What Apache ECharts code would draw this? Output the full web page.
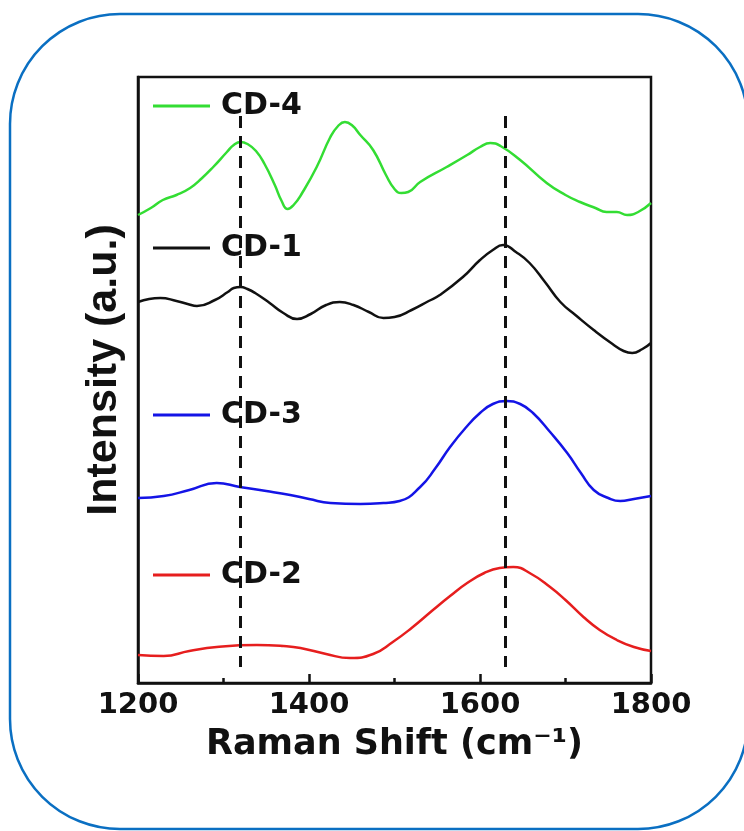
<!DOCTYPE html>
<html>
<head>
<meta charset="utf-8">
<title>Raman spectra CD-1 to CD-4</title>
<script src="https://cdn.jsdelivr.net/npm/echarts@6/dist/echarts.min.js"></script>
<style>
  html, body { margin: 0; padding: 0; background: #ffffff; }
  #chart { width: 744px; height: 831px; }
</style>
</head>
<body>
<div id="chart"></div>
<script>
// Raman shift (cm-1) sample points and stacked intensities (a.u., offset per trace)
const cd4Shift = [1200,1215,1229,1245,1261,1275,1288,1304,1312,1320,1328,1338,1348,1360,1368,1375,1382,1392,1409,1425,1434,1442,1450,1460,1475,1490,1500,1508,1516,1530,1561,1585,1600,1612,1624,1647,1678,1700,1717,1735,1748,1760,1772,1785,1800];
const cd4Intensity = [468,475,483,488,495,505,516,531,538,541,539,532,519,498,482,474,478,490,516,546,557,561,558,548,533,508,494,490,491,501,516,528,536,540,537,523,500,488,481,475,471,471,468,471,480];

const cd1Shift = [1200,1213,1226,1245,1258,1269,1290,1305,1312,1320,1328,1337,1354,1370,1386,1402,1420,1436,1452,1470,1487,1500,1520,1540,1553,1580,1600,1615,1627,1642,1658,1676,1694,1713,1733,1755,1768,1778,1790,1800];
const cd1Intensity = [381,384,385,382,379,377,383,391,395,396,394,390,380,370,364,369,378,381,378,371,365,366,373,382,388,406,423,433,438,431,420,401,381,367,353,339,332,330,334,340];

const cd3Shift = [1200,1230,1260,1292,1319,1350,1378,1400,1425,1460,1487,1506,1530,1548,1565,1583,1600,1615,1631,1647,1662,1682,1702,1718,1733,1750,1764,1780,1800];
const cd3Intensity = [185,187,193,200,196,192,188,184,180,179,180,182,196,215,236,255,270,279,282,279,270,251,230,210,193,185,182,184,187];

const cd2Shift = [1200,1230,1260,1292,1339,1370,1390,1420,1448,1475,1498,1520,1545,1565,1585,1605,1623,1639,1660,1682,1700,1721,1740,1760,1780,1800];
const cd2Intensity = [28,27,32,36,38,37,35,29,25,29,41,55,73,87,100,110,115,116,109,96,83,66,53,43,36,32];

// Band positions marked with dashed guides, and the guide span in intensity units
const bandPositions = [1320, 1630];
const guideSpan = [16, 567];

const xTicks = { min: 1200, max: 1800, interval: 200 };
const yRange = { min: 0, max: 606 };

const seriesNames = ['CD-4', 'CD-1', 'CD-3', 'CD-2'];
const seriesColors = ['#33dd33', '#111111', '#1414e6', '#e61e1e'];

function pairs(xs, ys) {
  return xs.map((x, i) => [x, ys[i]]);
}

const seriesData = [
  pairs(cd4Shift, cd4Intensity),
  pairs(cd1Shift, cd1Intensity),
  pairs(cd3Shift, cd3Intensity),
  pairs(cd2Shift, cd2Intensity)
];

const legendTops = [86, 228, 395, 555];

const chart = echarts.init(document.getElementById('chart'), null, { renderer: 'canvas' });

const series = seriesNames.map((name, i) => ({
  name: name,
  type: 'line',
  data: seriesData[i],
  smooth: 0.5,
  symbol: 'none',
  lineStyle: { color: seriesColors[i], width: 2.5 },
  itemStyle: { color: seriesColors[i] },
  z: 3
}));

// dashed guides at the two band positions
series[3].markLine = {
  silent: true,
  symbol: 'none',
  label: { show: false },
  lineStyle: { color: '#111111', type: [12, 8], width: 3 },
  data: bandPositions.map(p => [{ coord: [p, guideSpan[1]] }, { coord: [p, guideSpan[0]] }])
};

const option = {
  backgroundColor: '#ffffff',
  animation: false,
  graphic: [{
    type: 'rect',
    silent: true,
    shape: { x: 10, y: 14, width: 738, height: 815, r: 110 },
    style: { fill: 'none', stroke: '#0a6fc2', lineWidth: 2.5 },
    z: -10
  }],
  grid: {
    left: 138, right: 93, top: 77, bottom: 148,
    show: true, borderColor: '#111111', borderWidth: 2.5, backgroundColor: 'transparent'
  },
  legend: seriesNames.map((name, i) => ({
    data: [name],
    left: 148,
    top: legendTops[i],
    icon: 'rect',
    itemWidth: 57,
    itemHeight: 3,
    selectedMode: false,
    textStyle: {
      fontFamily: 'DejaVu Sans',
      fontWeight: 'bold',
      fontSize: 30,
      lineHeight: 30,
      color: '#111111',
      padding: [0, 0, 0, 6]
    }
  })),
  xAxis: {
    type: 'value',
    min: xTicks.min,
    max: xTicks.max,
    interval: xTicks.interval,
    name: 'Raman Shift (cm⁻¹)',
    nameLocation: 'middle',
    nameGap: 44,
    nameTextStyle: { fontFamily: 'DejaVu Sans', fontWeight: 'bold', fontSize: 35, color: '#111111' },
    axisLine: { show: true, lineStyle: { color: '#111111', width: 2.5 } },
    axisTick: { show: true, inside: true, length: 9, lineStyle: { color: '#111111', width: 2.5 } },
    minorTick: { show: true, splitNumber: 2, length: 5, lineStyle: { color: '#111111', width: 2.5 } },
    axisLabel: {
      fontFamily: 'DejaVu Sans', fontWeight: 'bold', fontSize: 29, color: '#111111', margin: 8,
      formatter: v => String(v)
    },
    splitLine: { show: false }
  },
  yAxis: {
    type: 'value',
    min: yRange.min,
    max: yRange.max,
    name: 'Intensity (a.u.)',
    nameLocation: 'middle',
    nameRotate: 90,
    nameGap: 12,
    nameTextStyle: {
      fontFamily: 'Liberation Sans', fontWeight: 'bold', fontSize: 43, color: '#111111',
      padding: [0, 0, 0, 20]
    },
    axisLine: { show: true, lineStyle: { color: '#111111', width: 2.5 } },
    axisTick: { show: false },
    axisLabel: { show: false },
    splitLine: { show: false }
  },
  series: series
};

chart.setOption(option);
</script>
</body>
</html>
